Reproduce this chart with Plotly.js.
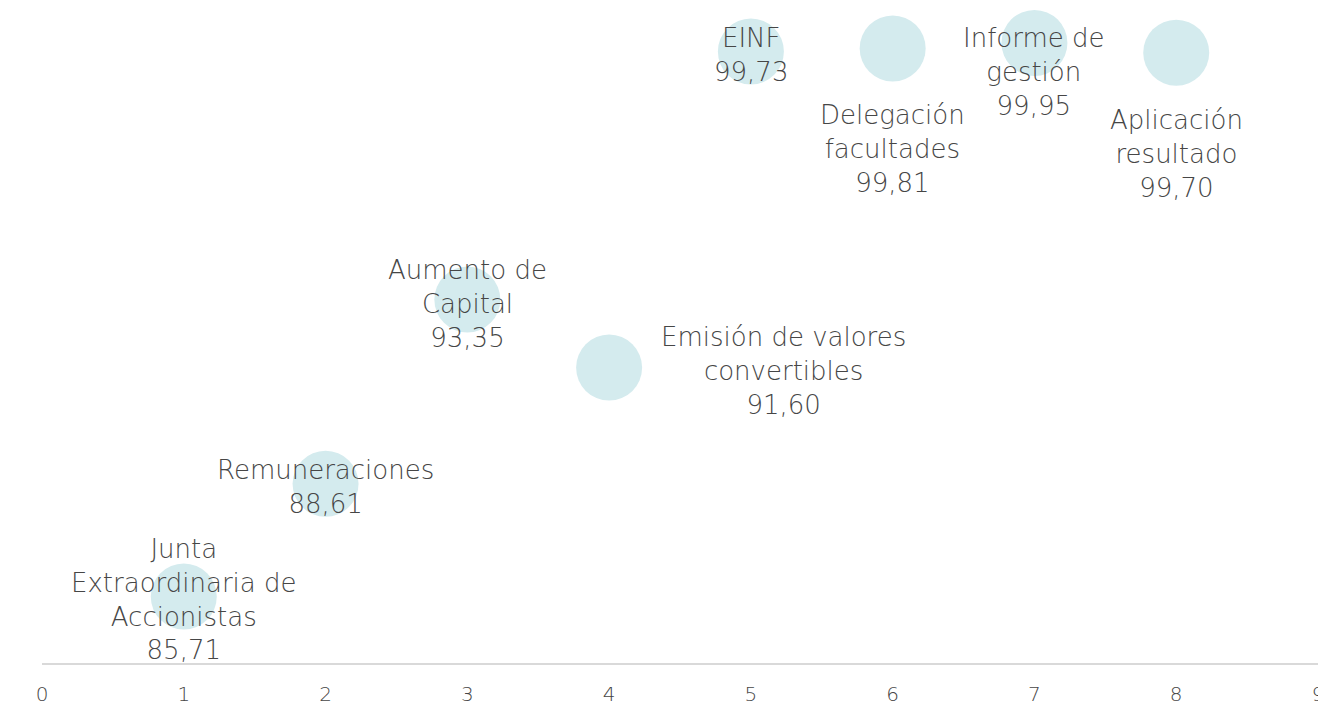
<!DOCTYPE html>
<html>
<head>
<meta charset="utf-8">
<script src="https://cdn.plot.ly/plotly-3.0.1.min.js"></script>
<style>html,body{margin:0;padding:0;background:#fff;}#chart{width:1318px;height:704px;}</style>
</head>
<body>
<div id="chart"></div>
<script>
// Data
const positions = [1, 2, 3, 4, 5, 6, 7, 8];
const values = [85.71, 88.61, 93.35, 91.60, 99.73, 99.81, 99.95, 99.70];
const labels = [
  "Junta<br>Extraordinaria de<br>Accionistas",
  "Remuneraciones",
  "Aumento de<br>Capital",
  "Emisión de valores<br>convertibles",
  "EINF",
  "Delegación<br>facultades",
  "Informe de<br>gestión",
  "Aplicación<br>resultado"
];
const xTicks = [0, 1, 2, 3, 4, 5, 6, 7, 8, 9];

// Label placement styles (pixel offsets from each point)
const labelStyle = [
  {xanchor: "center", xshift: 0, yshift: -3},
  {xanchor: "center", xshift: 0, yshift: -3},
  {xanchor: "center", xshift: 0, yshift: -4},
  {xanchor: "center", xshift: 174, yshift: -3},
  {xanchor: "center", xshift: 0, yshift: -3},
  {xanchor: "center", xshift: 0, yshift: -101},
  {xanchor: "center", xshift: 0, yshift: -29},
  {xanchor: "center", xshift: 0, yshift: -101}
];

const fmt = v => v.toFixed(2).replace(".", ",");
const FONT = "'DejaVu Sans', sans-serif";
const TEXT_COLOR = "#464646";

const trace = {
  type: "scatter",
  mode: "markers",
  x: positions,
  y: values,
  cliponaxis: false,
  marker: {size: 66, color: "#d4ebee", line: {width: 0}},
  hoverinfo: "x+y"
};

const annotations = positions.map((p, i) => ({
  x: p,
  y: values[i],
  xref: "x",
  yref: "y",
  text: labels[i] + "<br>" + fmt(values[i]),
  showarrow: false,
  align: "center",
  xanchor: labelStyle[i].xanchor,
  yanchor: "middle",
  xshift: labelStyle[i].xshift,
  yshift: labelStyle[i].yshift,
  font: {family: FONT, size: 26, weight: 200, color: TEXT_COLOR}
}));

const layout = {
  width: 1318,
  height: 704,
  margin: {l: 42, r: 0, t: 41, b: 41, pad: 0},
  paper_bgcolor: "#ffffff",
  plot_bgcolor: "#ffffff",
  showlegend: false,
  xaxis: {
    range: [0, 9],
    tickvals: xTicks,
    ticktext: xTicks.map(String),
    showgrid: false,
    zeroline: false,
    showline: true,
    linecolor: "#d9d9d9",
    linewidth: 1.5,
    ticks: "",
    ticklabelstandoff: 12,
    ticklabeloverflow: "allow",
    tickfont: {family: FONT, size: 20, weight: 200, color: TEXT_COLOR},
    fixedrange: true
  },
  yaxis: {
    range: [84, 100],
    showgrid: false,
    zeroline: false,
    showline: false,
    showticklabels: false,
    ticks: "",
    fixedrange: true
  },
  annotations: annotations
};

Plotly.newPlot("chart", [trace], layout, {displayModeBar: false, staticPlot: true});
</script>
</body>
</html>
